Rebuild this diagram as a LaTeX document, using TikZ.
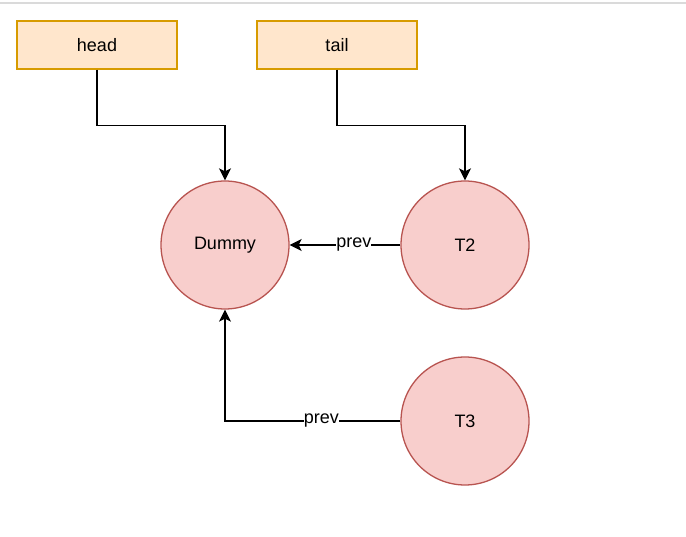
\documentclass[tikz,border=0pt]{standalone}
\usepackage{fontspec}
\setmainfont{Liberation Sans}
\usetikzlibrary{arrows.meta}
\definecolor{boxfill}{HTML}{FFE6CC}
\definecolor{boxdraw}{HTML}{D79B00}
\definecolor{circfill}{HTML}{F8CECC}
\definecolor{circdraw}{HTML}{B85450}
\definecolor{topline}{HTML}{DADADA}
\begin{document}
\begin{tikzpicture}[x=1pt,y=-1pt,
  ptr/.style={draw=boxdraw,fill=boxfill,line width=1.3pt,minimum width=160pt,minimum height=48pt,inner sep=0pt,font=\fontsize{18}{21}\selectfont},
  qnode/.style={circle,draw=circdraw,fill=circfill,line width=1.3pt,minimum size=128pt,inner sep=0pt,font=\fontsize{18}{21}\selectfont},
  conn/.style={draw=black,line width=1.3pt,-{Stealth[length=12pt,width=12pt,inset=3pt]}},
  lbl/.style={fill=white,inner xsep=0pt,inner ysep=1pt,font=\fontsize{18}{21}\selectfont}]
\useasboundingbox (0,0) rectangle (686,537);
\fill[white] (0,0) rectangle (686,537);
\draw[topline,line width=2pt] (0,3) -- (686,3);
\node[ptr] (head) at (97,45) {head};
\node[ptr] (tail) at (337,45) {tail};
\node[qnode] (dummy) at (225,245) {Dummy};
\node[qnode] (t2) at (465,245) {T2};
\node[qnode] (t3) at (465,421) {T3};
\draw[conn] (head.south) -- ++(0,56) -| (dummy.north);
\draw[conn] (tail.south) -- ++(0,56) -| (t2.north);
\draw[conn] (t2.west) -- node[lbl,pos=0.42,yshift=0.5pt] {prev} (dummy.east);
\draw[conn] (t3.west) -- node[lbl,pos=0.45,yshift=0.5pt] {prev} (dummy.south |- t3.west) -- (dummy.south);
\end{tikzpicture}
\end{document}
